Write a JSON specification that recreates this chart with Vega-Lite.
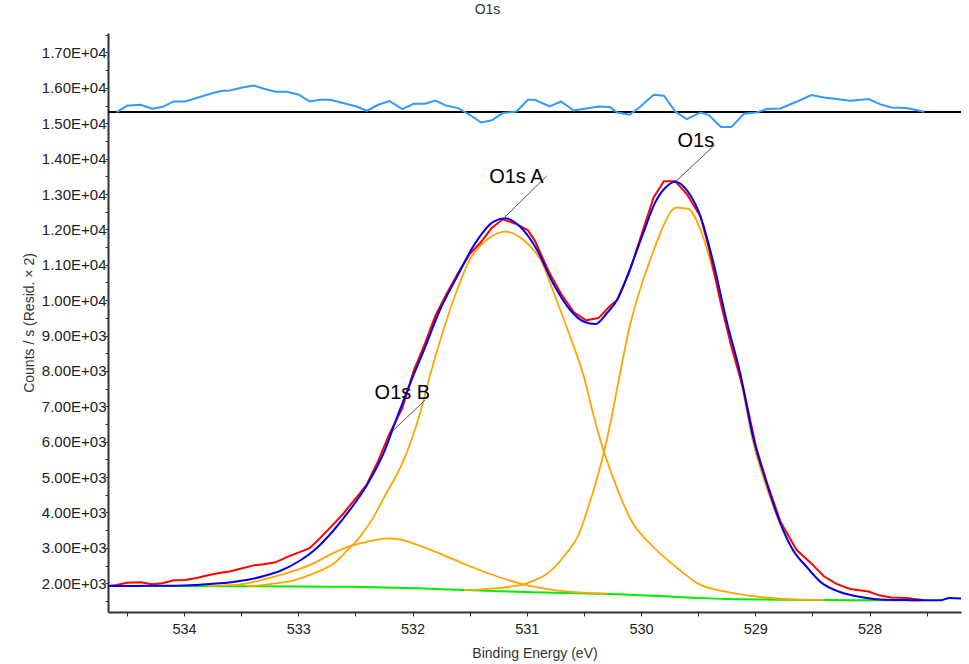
{
  "$schema": "https://vega.github.io/schema/vega-lite/v6.json",
  "width": 853,
  "height": 579,
  "autosize": {"type": "none"},
  "padding": {"left": 108, "top": 33, "right": 8, "bottom": 52},
  "background": "white",
  "title": {"text": "O1s", "frame": "group", "anchor": "middle", "dx": -47, "offset": 11, "font": "Liberation Sans", "fontSize": 14, "fontWeight": "normal", "color": "#333333"},
  "datasets": {
    "bg": [
      {"be": 534.665, "v": 1925}, {"be": 534.0, "v": 1920}, {"be": 533.5, "v": 1915}, {"be": 533.0, "v": 1910},
      {"be": 532.75, "v": 1905}, {"be": 532.55, "v": 1899}, {"be": 532.35, "v": 1890}, {"be": 532.15, "v": 1876},
      {"be": 531.95, "v": 1856}, {"be": 531.75, "v": 1834}, {"be": 531.55, "v": 1812}, {"be": 531.35, "v": 1790},
      {"be": 531.15, "v": 1768}, {"be": 530.95, "v": 1748}, {"be": 530.75, "v": 1731}, {"be": 530.55, "v": 1716},
      {"be": 530.35, "v": 1702}, {"be": 530.15, "v": 1684}, {"be": 529.95, "v": 1657}, {"be": 529.75, "v": 1624},
      {"be": 529.55, "v": 1591}, {"be": 529.35, "v": 1566}, {"be": 529.15, "v": 1550}, {"be": 528.95, "v": 1541},
      {"be": 528.75, "v": 1535}, {"be": 528.55, "v": 1530}, {"be": 528.35, "v": 1526}, {"be": 528.15, "v": 1522},
      {"be": 527.95, "v": 1519}, {"be": 527.75, "v": 1517}, {"be": 527.55, "v": 1515}
    ],
    "comp": [
      {"pk": "O1s", "be": 531.55, "v": 1815}, {"pk": "O1s", "be": 531.4, "v": 1830}, {"pk": "O1s", "be": 531.25, "v": 1862},
      {"pk": "O1s", "be": 531.1, "v": 1925}, {"pk": "O1s", "be": 531.03, "v": 1972}, {"pk": "O1s", "be": 530.95, "v": 2060},
      {"pk": "O1s", "be": 530.82, "v": 2274}, {"pk": "O1s", "be": 530.68, "v": 2744}, {"pk": "O1s", "be": 530.53, "v": 3499},
      {"pk": "O1s", "be": 530.48, "v": 3972}, {"pk": "O1s", "be": 530.39, "v": 4914}, {"pk": "O1s", "be": 530.33, "v": 5640},
      {"pk": "O1s", "be": 530.27, "v": 6500}, {"pk": "O1s", "be": 530.18, "v": 8000}, {"pk": "O1s", "be": 530.1, "v": 9251},
      {"pk": "O1s", "be": 530.01, "v": 10289}, {"pk": "O1s", "be": 529.92, "v": 11138}, {"pk": "O1s", "be": 529.8, "v": 12128},
      {"pk": "O1s", "be": 529.74, "v": 12500}, {"pk": "O1s", "be": 529.69, "v": 12617}, {"pk": "O1s", "be": 529.64, "v": 12600},
      {"pk": "O1s", "be": 529.59, "v": 12590}, {"pk": "O1s", "be": 529.48, "v": 11990}, {"pk": "O1s", "be": 529.37, "v": 10850},
      {"pk": "O1s", "be": 529.25, "v": 9300}, {"pk": "O1s", "be": 529.13, "v": 7780}, {"pk": "O1s", "be": 529.02, "v": 6000},
      {"pk": "O1s", "be": 528.9, "v": 4700}, {"pk": "O1s", "be": 528.78, "v": 3660}, {"pk": "O1s", "be": 528.67, "v": 2950},
      {"pk": "O1s", "be": 528.55, "v": 2460}, {"pk": "O1s", "be": 528.43, "v": 2050}, {"pk": "O1s", "be": 528.26, "v": 1760},
      {"pk": "O1s", "be": 528.08, "v": 1620}, {"pk": "O1s", "be": 527.91, "v": 1545}, {"pk": "O1s", "be": 527.8, "v": 1528},
      {"pk": "A", "be": 533.45, "v": 1925}, {"pk": "A", "be": 533.33, "v": 1943}, {"pk": "A", "be": 533.22, "v": 1992},
      {"pk": "A", "be": 533.04, "v": 2085}, {"pk": "A", "be": 532.87, "v": 2274}, {"pk": "A", "be": 532.69, "v": 2557},
      {"pk": "A", "be": 532.57, "v": 2934}, {"pk": "A", "be": 532.46, "v": 3310}, {"pk": "A", "be": 532.34, "v": 3876},
      {"pk": "A", "be": 532.23, "v": 4538}, {"pk": "A", "be": 532.11, "v": 5250}, {"pk": "A", "be": 532.02, "v": 5950},
      {"pk": "A", "be": 531.93, "v": 6850}, {"pk": "A", "be": 531.85, "v": 7836}, {"pk": "A", "be": 531.73, "v": 9157},
      {"pk": "A", "be": 531.61, "v": 10289}, {"pk": "A", "be": 531.5, "v": 11138}, {"pk": "A", "be": 531.35, "v": 11703},
      {"pk": "A", "be": 531.19, "v": 11938}, {"pk": "A", "be": 531.03, "v": 11703}, {"pk": "A", "be": 530.88, "v": 11138},
      {"pk": "A", "be": 530.74, "v": 10006}, {"pk": "A", "be": 530.62, "v": 8968}, {"pk": "A", "be": 530.5, "v": 7836},
      {"pk": "A", "be": 530.42, "v": 6800}, {"pk": "A", "be": 530.33, "v": 5763}, {"pk": "A", "be": 530.3, "v": 5480},
      {"pk": "A", "be": 530.18, "v": 4441}, {"pk": "A", "be": 530.07, "v": 3689}, {"pk": "A", "be": 529.95, "v": 3216},
      {"pk": "A", "be": 529.8, "v": 2744}, {"pk": "A", "be": 529.66, "v": 2368}, {"pk": "A", "be": 529.5, "v": 1990},
      {"pk": "A", "be": 529.25, "v": 1754}, {"pk": "A", "be": 528.96, "v": 1612}, {"pk": "A", "be": 528.61, "v": 1539},
      {"pk": "A", "be": 528.4, "v": 1528},
      {"pk": "B", "be": 533.8, "v": 1928}, {"pk": "B", "be": 533.52, "v": 1963}, {"pk": "B", "be": 533.39, "v": 2037},
      {"pk": "B", "be": 533.22, "v": 2178}, {"pk": "B", "be": 533.04, "v": 2348}, {"pk": "B", "be": 532.87, "v": 2557},
      {"pk": "B", "be": 532.69, "v": 2857}, {"pk": "B", "be": 532.52, "v": 3075}, {"pk": "B", "be": 532.4, "v": 3168},
      {"pk": "B", "be": 532.25, "v": 3260}, {"pk": "B", "be": 532.2, "v": 3265}, {"pk": "B", "be": 532.1, "v": 3230},
      {"pk": "B", "be": 531.99, "v": 3123}, {"pk": "B", "be": 531.76, "v": 2840}, {"pk": "B", "be": 531.52, "v": 2509},
      {"pk": "B", "be": 531.29, "v": 2226}, {"pk": "B", "be": 531.03, "v": 1972}, {"pk": "B", "be": 530.74, "v": 1802},
      {"pk": "B", "be": 530.3, "v": 1709}
    ],
    "raw": [
      {"be": 534.66, "v": 1925}, {"be": 534.59, "v": 1950}, {"be": 534.5, "v": 2015}, {"be": 534.38, "v": 2029},
      {"be": 534.28, "v": 1975}, {"be": 534.19, "v": 2000}, {"be": 534.09, "v": 2085}, {"be": 533.99, "v": 2090},
      {"be": 533.89, "v": 2148}, {"be": 533.79, "v": 2224}, {"be": 533.68, "v": 2300}, {"be": 533.6, "v": 2333},
      {"be": 533.49, "v": 2426}, {"be": 533.39, "v": 2506}, {"be": 533.3, "v": 2537}, {"be": 533.2, "v": 2592},
      {"be": 533.1, "v": 2737}, {"be": 533.0, "v": 2866}, {"be": 532.9, "v": 2990}, {"be": 532.81, "v": 3274},
      {"be": 532.72, "v": 3574}, {"be": 532.61, "v": 3951}, {"be": 532.49, "v": 4427}, {"be": 532.4, "v": 4790},
      {"be": 532.3, "v": 5464}, {"be": 532.2, "v": 6236}, {"be": 532.09, "v": 6943}, {"be": 531.99, "v": 8003},
      {"be": 531.89, "v": 8788}, {"be": 531.8, "v": 9564}, {"be": 531.7, "v": 10189}, {"be": 531.6, "v": 10777},
      {"be": 531.5, "v": 11302}, {"be": 531.4, "v": 11643}, {"be": 531.31, "v": 12031}, {"be": 531.21, "v": 12286},
      {"be": 531.09, "v": 12149}, {"be": 530.99, "v": 11974}, {"be": 530.93, "v": 11684}, {"be": 530.8, "v": 10759},
      {"be": 530.7, "v": 10180}, {"be": 530.59, "v": 9663}, {"be": 530.48, "v": 9431}, {"be": 530.37, "v": 9499},
      {"be": 530.27, "v": 9841}, {"be": 530.21, "v": 10000}, {"be": 530.1, "v": 10817}, {"be": 530.01, "v": 11711},
      {"be": 529.89, "v": 12905}, {"be": 529.8, "v": 13361}, {"be": 529.7, "v": 13359}, {"be": 529.6, "v": 13001},
      {"be": 529.48, "v": 12363}, {"be": 529.41, "v": 11522}, {"be": 529.3, "v": 9888}, {"be": 529.21, "v": 8688},
      {"be": 529.1, "v": 7436}, {"be": 528.99, "v": 5804}, {"be": 528.9, "v": 4863}, {"be": 528.78, "v": 3740},
      {"be": 528.64, "v": 2946}, {"be": 528.51, "v": 2561}, {"be": 528.4, "v": 2197}, {"be": 528.29, "v": 1984},
      {"be": 528.17, "v": 1840}, {"be": 528.01, "v": 1769}, {"be": 527.91, "v": 1652}, {"be": 527.81, "v": 1595},
      {"be": 527.68, "v": 1581}, {"be": 527.52, "v": 1523}
    ],
    "env": [
      {"be": 534.665, "v": 1925}, {"be": 534.3, "v": 1927}, {"be": 534.0, "v": 1940}, {"be": 533.77, "v": 1980},
      {"be": 533.57, "v": 2037}, {"be": 533.42, "v": 2113}, {"be": 533.3, "v": 2207}, {"be": 533.16, "v": 2348},
      {"be": 532.98, "v": 2651}, {"be": 532.86, "v": 2934}, {"be": 532.69, "v": 3499}, {"be": 532.55, "v": 4065},
      {"be": 532.4, "v": 4772}, {"be": 532.25, "v": 5700}, {"be": 532.14, "v": 6650}, {"be": 532.02, "v": 7649},
      {"be": 531.9, "v": 8592}, {"be": 531.76, "v": 9723}, {"be": 531.61, "v": 10665}, {"be": 531.47, "v": 11514},
      {"be": 531.29, "v": 12221}, {"be": 531.19, "v": 12317}, {"be": 531.06, "v": 12080}, {"be": 530.91, "v": 11419},
      {"be": 530.77, "v": 10478}, {"be": 530.62, "v": 9723}, {"be": 530.5, "v": 9392}, {"be": 530.4, "v": 9327},
      {"be": 530.3, "v": 9630}, {"be": 530.21, "v": 10006}, {"be": 530.1, "v": 10855}, {"be": 529.98, "v": 11900},
      {"be": 529.88, "v": 12740}, {"be": 529.79, "v": 13172}, {"be": 529.7, "v": 13350}, {"be": 529.59, "v": 13070},
      {"be": 529.48, "v": 12369}, {"be": 529.37, "v": 11100}, {"be": 529.25, "v": 9400}, {"be": 529.13, "v": 7900},
      {"be": 529.02, "v": 6139}, {"be": 528.9, "v": 4820}, {"be": 528.78, "v": 3689}, {"be": 528.67, "v": 2934},
      {"be": 528.55, "v": 2461}, {"be": 528.43, "v": 2037}, {"be": 528.26, "v": 1754}, {"be": 528.08, "v": 1612},
      {"be": 527.91, "v": 1539}, {"be": 527.7, "v": 1525}, {"be": 527.5, "v": 1519}, {"be": 527.38, "v": 1519},
      {"be": 527.3, "v": 1584}, {"be": 527.2, "v": 1567}
    ],
    "resid": [
      {"be": 534.59, "v": 15316}, {"be": 534.5, "v": 15494}, {"be": 534.38, "v": 15523}, {"be": 534.28, "v": 15409},
      {"be": 534.19, "v": 15457}, {"be": 534.09, "v": 15616}, {"be": 533.99, "v": 15616}, {"be": 533.89, "v": 15712},
      {"be": 533.79, "v": 15814}, {"be": 533.68, "v": 15910}, {"be": 533.6, "v": 15927}, {"be": 533.49, "v": 16012},
      {"be": 533.39, "v": 16069}, {"be": 533.3, "v": 15975}, {"be": 533.2, "v": 15890}, {"be": 533.1, "v": 15890},
      {"be": 533.0, "v": 15814}, {"be": 532.9, "v": 15616}, {"be": 532.81, "v": 15664}, {"be": 532.72, "v": 15664},
      {"be": 532.61, "v": 15571}, {"be": 532.49, "v": 15474}, {"be": 532.4, "v": 15353}, {"be": 532.3, "v": 15523},
      {"be": 532.2, "v": 15627}, {"be": 532.09, "v": 15401}, {"be": 531.99, "v": 15551}, {"be": 531.89, "v": 15551},
      {"be": 531.8, "v": 15644}, {"be": 531.7, "v": 15494}, {"be": 531.6, "v": 15429}, {"be": 531.5, "v": 15240},
      {"be": 531.4, "v": 15022}, {"be": 531.31, "v": 15078}, {"be": 531.21, "v": 15288}, {"be": 531.09, "v": 15333},
      {"be": 530.99, "v": 15664}, {"be": 530.93, "v": 15664}, {"be": 530.8, "v": 15474}, {"be": 530.7, "v": 15616},
      {"be": 530.59, "v": 15361}, {"be": 530.48, "v": 15418}, {"be": 530.37, "v": 15474}, {"be": 530.27, "v": 15457},
      {"be": 530.21, "v": 15305}, {"be": 530.1, "v": 15240}, {"be": 530.01, "v": 15457}, {"be": 529.89, "v": 15805},
      {"be": 529.8, "v": 15777}, {"be": 529.7, "v": 15333}, {"be": 529.6, "v": 15118}, {"be": 529.48, "v": 15305},
      {"be": 529.41, "v": 15240}, {"be": 529.3, "v": 14892}, {"be": 529.21, "v": 14892}, {"be": 529.1, "v": 15268},
      {"be": 528.99, "v": 15305}, {"be": 528.9, "v": 15401}, {"be": 528.78, "v": 15418}, {"be": 528.64, "v": 15607},
      {"be": 528.51, "v": 15797}, {"be": 528.4, "v": 15729}, {"be": 528.29, "v": 15684}, {"be": 528.17, "v": 15636},
      {"be": 528.01, "v": 15684}, {"be": 527.91, "v": 15542}, {"be": 527.81, "v": 15446}, {"be": 527.68, "v": 15429},
      {"be": 527.52, "v": 15324}
    ],
    "zero": [{"be": 534.665, "v": 15316}, {"be": 527.2, "v": 15316}],
    "leaders": [
      {"be": 531.19, "v": 12354, "be2": 530.825, "v2": 13514},
      {"be": 532.167, "v": 6328, "be2": 531.89, "v2": 7177},
      {"be": 529.7, "v": 13344, "be2": 529.353, "v2": 14391}
    ],
    "labels": [
      {"be": 531.091, "v": 13316, "t": "O1s A"},
      {"be": 532.089, "v": 7205, "t": "O1s B"},
      {"be": 529.52, "v": 14334, "t": "O1s"}
    ]
  },
  "encoding": {
    "x": {
      "field": "be", "type": "quantitative",
      "scale": {"domain": [527.2, 534.665], "reverse": true, "nice": false, "zero": false},
      "axis": {
        "values": [534.5, 534, 533.5, 533, 532.5, 532, 531.5, 531, 530.5, 530, 529.5, 529, 528.5, 528, 527.5],
        "labelExpr": "datum.value % 1 == 0 ? format(datum.value, 'd') : ''",
        "title": "Binding Energy (eV)",
        "titleY": 45, "titleBaseline": "alphabetic",
        "tickSize": 4, "labelPadding": 6, "labelFontSize": 14.5
      }
    },
    "y": {
      "field": "v", "type": "quantitative",
      "scale": {"domain": [1188, 17551], "nice": false, "zero": false},
      "axis": {
        "values": [1500, 2000, 2500, 3000, 3500, 4000, 4500, 5000, 5500, 6000, 6500, 7000, 7500, 8000, 8500, 9000, 9500, 10000, 10500, 11000, 11500, 12000, 12500, 13000, 13500, 14000, 14500, 15000, 15500, 16000, 16500, 17000, 17500],
        "labelExpr": "datum.value % 1000 == 0 ? (datum.value >= 10000 ? format(datum.value / 10000, '.2f') + 'E+04' : format(datum.value / 1000, '.2f') + 'E+03') : ''",
        "title": "Counts / s (Resid. × 2)",
        "titleX": -75, "titleBaseline": "alphabetic",
        "tickSize": 3, "labelPadding": -1, "labelFontSize": 15
      }
    }
  },
  "layer": [
    {"data": {"name": "bg"}, "mark": {"type": "line", "color": "#00EE00", "strokeWidth": 2, "interpolate": "monotone"}},
    {"data": {"name": "comp"}, "mark": {"type": "line", "color": "#FFA500", "strokeWidth": 1.8, "interpolate": "monotone"}, "encoding": {"detail": {"field": "pk"}}},
    {"data": {"name": "raw"}, "mark": {"type": "line", "color": "#FF0000", "strokeWidth": 2}},
    {"data": {"name": "env"}, "mark": {"type": "line", "color": "#0000EE", "strokeWidth": 2, "interpolate": "monotone"}},
    {"data": {"name": "zero"}, "mark": {"type": "line", "color": "#000000", "strokeWidth": 2}},
    {"data": {"name": "resid"}, "mark": {"type": "line", "color": "#3399FF", "strokeWidth": 2}},
    {"data": {"name": "leaders"}, "mark": {"type": "rule", "color": "#555555", "strokeWidth": 1}, "encoding": {"x2": {"field": "be2"}, "y2": {"field": "v2"}}},
    {"data": {"name": "labels"}, "mark": {"type": "text", "font": "Liberation Sans", "fontSize": 20, "color": "#000000", "align": "center", "baseline": "alphabetic"}, "encoding": {"text": {"field": "t"}}}
  ],
  "config": {
    "view": {"stroke": null},
    "axis": {
      "grid": false,
      "labelFont": "Liberation Sans", "labelFontSize": 14, "labelColor": "#222222",
      "titleFont": "Liberation Sans", "titleFontSize": 14, "titleFontWeight": "normal", "titleColor": "#333333",
      "domainColor": "#333333", "domainWidth": 2, "tickColor": "#333333", "tickWidth": 1,
      "labelOverlap": false, "labelFlush": false, "labelBound": false
    }
  }
}
